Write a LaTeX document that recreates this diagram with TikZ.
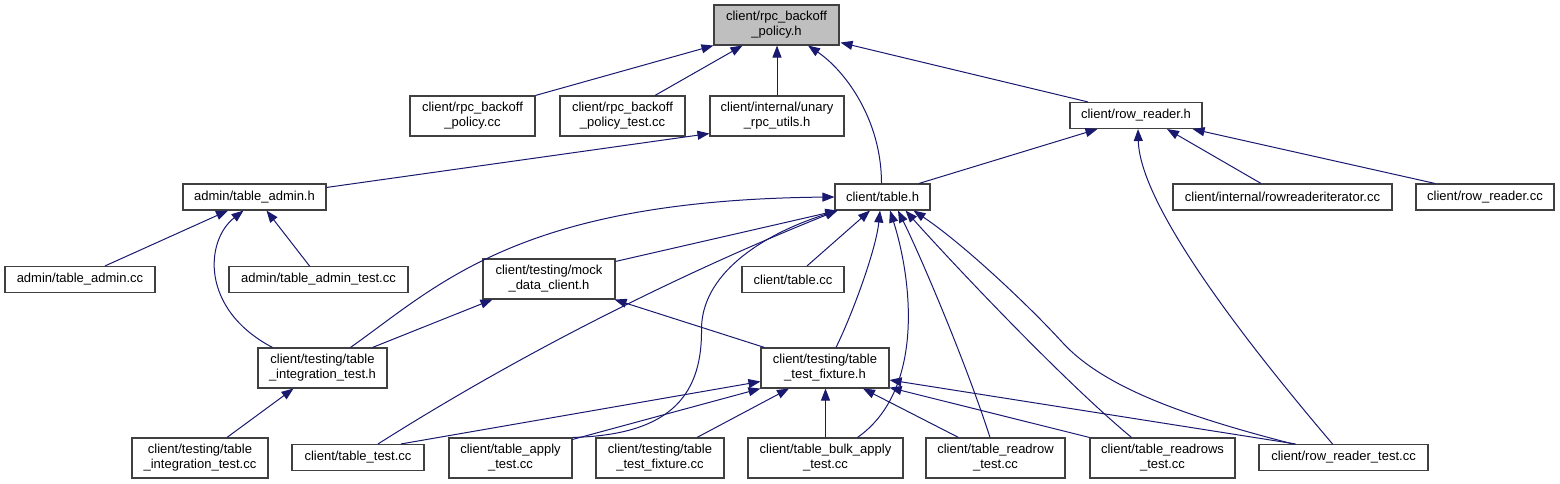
\documentclass[tikz,border=0pt]{standalone}
\usepackage{fontspec}
\setmainfont{Liberation Sans}
\usetikzlibrary{arrows.meta,calc}
\definecolor{edgeblue}{HTML}{191970}
\definecolor{boxline}{HTML}{404040}
\definecolor{topfill}{HTML}{BFBFBF}
\begin{document}
\begin{tikzpicture}[x=1pt,y=-1pt,
  box/.style={draw=boxline, line width=1.1pt, fill=white, inner sep=0pt, align=center, font=\fontsize{13}{15}\selectfont},
  edge/.style={draw=edgeblue, line width=1pt, -{Triangle[length=12pt,width=9pt]}}]
\path[use as bounding box] (0,0) rectangle (1560,484);
% nodes
\node[box,fill=topfill,minimum width=125pt,minimum height=40pt] (top) at (776.5,25) {client/rpc\_backoff\\\_policy.h};
\node[box,minimum width=125pt,minimum height=40pt] (rbpcc) at (472.5,116) {client/rpc\_backoff\\\_policy.cc};
\node[box,minimum width=125pt,minimum height=40pt] (rbptest) at (622.5,116) {client/rpc\_backoff\\\_policy\_test.cc};
\node[box,minimum width=134pt,minimum height=40pt] (unary) at (777,116) {client/internal/unary\\\_rpc\_utils.h};
\node[box,minimum width=132pt,minimum height=26pt] (rowreaderh) at (1136,115.5) {client/row\_reader.h};
\node[box,minimum width=95pt,minimum height=26pt] (tableh) at (882.5,197) {client/table.h};
\node[box,minimum width=143pt,minimum height=26pt] (adminh) at (254.5,197) {admin/table\_admin.h};
\node[box,minimum width=219pt,minimum height=26pt] (rriter) at (1282.5,197) {client/internal/rowreaderiterator.cc};
\node[box,minimum width=138pt,minimum height=26pt] (rowreadercc) at (1485,197) {client/row\_reader.cc};
\node[box,minimum width=150pt,minimum height=26pt] (admincc) at (80,279.5) {admin/table\_admin.cc};
\node[box,minimum width=179pt,minimum height=26pt] (admintest) at (318.5,279.5) {admin/table\_admin\_test.cc};
\node[box,minimum width=132pt,minimum height=40pt] (mock) at (549,279) {client/testing/mock\\\_data\_client.h};
\node[box,minimum width=102pt,minimum height=26pt] (tablecc) at (793,279.5) {client/table.cc};
\node[box,minimum width=129pt,minimum height=40pt] (integh) at (322.5,368) {client/testing/table\\\_integration\_test.h};
\node[box,minimum width=128pt,minimum height=40pt] (fixtureh) at (825,368) {client/testing/table\\\_test\_fixture.h};
\node[box,minimum width=136pt,minimum height=40pt] (integcc) at (200,458) {client/testing/table\\\_integration\_test.cc};
\node[box,minimum width=132pt,minimum height=26pt] (tabletest) at (358,457.5) {client/table\_test.cc};
\node[box,minimum width=123pt,minimum height=40pt] (applytest) at (510.5,458) {client/table\_apply\\\_test.cc};
\node[box,minimum width=128pt,minimum height=40pt] (fixturecc) at (660,458) {client/testing/table\\\_test\_fixture.cc};
\node[box,minimum width=155pt,minimum height=40pt] (bulk) at (825.5,458) {client/table\_bulk\_apply\\\_test.cc};
\node[box,minimum width=139pt,minimum height=40pt] (readrow) at (995.5,458) {client/table\_readrow\\\_test.cc};
\node[box,minimum width=145pt,minimum height=40pt] (readrows) at (1162.5,458) {client/table\_readrows\\\_test.cc};
\node[box,minimum width=169pt,minimum height=26pt] (rrtest) at (1343.5,457.5) {client/row\_reader\_test.cc};
% edges to rpc_backoff_policy.h
\draw[edge] (rbpcc.north east) -- (top.south west);
\draw[edge] ($(rbptest.north)+(32.5,0)$) -- ($(top.south)+(-34,0)$);
\draw[edge] (unary.north) -- ($(top.south)+(0.5,0)$);
\draw[edge] ($(tableh.north)+(-1,0)$) .. controls +(0,-64) and +(37,25) .. ($(top.south)+(31.5,0)$);
\draw[edge] ($(rowreaderh.north)+(-48,0)$) -- ($(top.south east)+(1,-3)$);
% unary
\draw[edge] ($(adminh.north east)+(0,4)$) -- ($(unary.south west)+(0,-3)$);
% row_reader.h
\draw[edge] ($(tableh.north)+(36.5,0)$) -- ($(rowreaderh.south west)+(28,0)$);
\draw[edge] ($(rriter.north)+(-21.5,0)$) -- ($(rowreaderh.south)+(31,0)$);
\draw[edge] ($(rowreadercc.north)+(-50,0)$) -- ($(rowreaderh.south east)+(-10,0)$);
\draw[edge] ($(rrtest.north)+(-11,0)$) .. controls +(-68,-80) and +(2,82) .. ($(rowreaderh.south)+(2,0)$);
% table_admin.h
\draw[edge] ($(admincc.north)+(25,0)$) -- ($(adminh.south)+(-26.5,0)$);
\draw[edge] ($(admintest.north)+(-9,0)$) -- ($(adminh.south)+(12,0)$);
\draw[edge] ($(integh.north)+(-50,0)$) .. controls +(-72.5,-38) and +(-38.5,30) .. ($(adminh.south)+(-11,0)$);
% table.h
\draw[edge] ($(integh.north)+(28,0)$) .. controls +(89,-63) and +(-315,3) .. (tableh.west);
\draw[edge] ($(mock.north east)+(0,3)$) -- ($(tableh.south west)+(3,0)$);
\draw[edge] ($(tabletest.north)+(20,0)$) .. controls +(150,-95) and +(-150,60) .. ($(tableh.south west)+(3,0)$);
\draw[edge] (applytest.north east) .. controls (665,435) and (702,400) .. (701.5,330) .. controls (701,275) and (760,235) .. ($(tableh.south west)+(3,0)$);
\draw[edge] ($(tablecc.north)+(14,0)$) -- ($(tableh.south)+(-12.5,0)$);
\draw[edge] ($(fixtureh.north)+(11,0)$) .. controls (852,315) and (876,250) .. ($(tableh.south)+(-2.5,0)$);
\draw[edge] ($(bulk.north)+(32,0)$) .. controls (925,390) and (912,280) .. ($(tableh.south)+(7.5,0)$);
\draw[edge] ($(readrow.north)+(-5.5,0)$) .. controls (965,360) and (920,255) .. ($(tableh.south)+(15.5,0)$);
\draw[edge] ($(readrows.north)+(-31,0)$) .. controls (1060,378) and (945,255) .. ($(tableh.south)+(23,0)$);
\draw[edge] ($(rrtest.north)+(-50.5,0)$) .. controls (1180,415) and (1102,386) .. (1062,342) .. controls (1032,309) and (965,245) .. ($(tableh.south)+(31,0)$);
% table_test_fixture.h
\draw[edge] ($(tabletest.north)+(43,0)$) -- ($(fixtureh.west)+(0,13.5)$);
\draw[edge] ($(applytest.north east)+(0,2)$) -- (fixtureh.south west);
\draw[edge] ($(fixturecc.north)+(37,0)$) -- ($(fixtureh.south)+(-36,0)$);
\draw[edge] (bulk.north) -- ($(fixtureh.south)+(0.5,0)$);
\draw[edge] ($(readrow.north)+(-37,0)$) -- ($(fixtureh.south)+(38,0)$);
\draw[edge] (readrows.north west) -- ($(fixtureh.south east)+(0,-1)$);
\draw[edge] ($(rrtest.north)+(-48,0)$) -- ($(fixtureh.east)+(0,12)$);
% mock_data_client.h
\draw[edge] ($(fixtureh.north west)+(4,0)$) -- ($(mock.south east)+(-1,0)$);
\draw[edge] ($(integh.north)+(50,0)$) -- ($(mock.south west)+(10,0)$);
% table_integration_test.h
\draw[edge] ($(integcc.north)+(27,0)$) -- ($(integh.south)+(-29,0)$);
\end{tikzpicture}
\end{document}
